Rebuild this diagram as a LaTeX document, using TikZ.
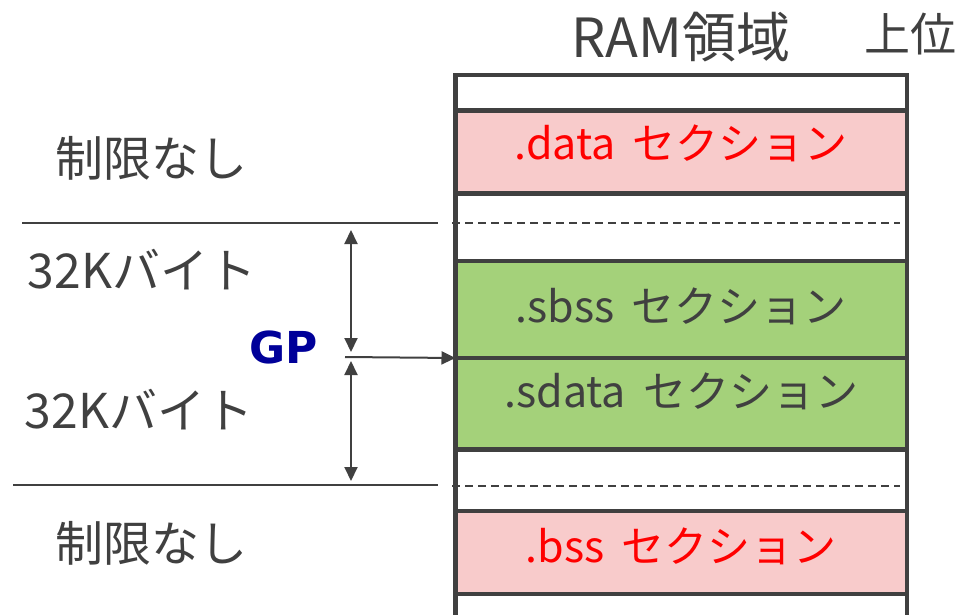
\documentclass[tikz,border=0pt]{standalone}
\usepackage{fontspec}
\setmainfont{Noto Sans CJK JP}
\newfontfamily\gpfont{DejaVu Sans}
\usetikzlibrary{arrows.meta}
\definecolor{dk}{HTML}{404040}
\definecolor{pinkfill}{HTML}{F8CBCB}
\definecolor{greenfill}{HTML}{A4D17A}
\definecolor{redtext}{HTML}{FF0000}
\definecolor{gpblue}{HTML}{000099}
\newcommand{\gapsp}{\hspace{17pt}}
\tikzset{
  seg/.style={draw=dk, line width=4.5pt, minimum width=451.5pt, inner sep=0pt, outer sep=0pt, text depth=0pt},
  blank/.style={seg, fill=white},
  redsec/.style={seg, fill=pinkfill, text=redtext, font=\fontsize{43}{50}\selectfont},
  greensec/.style={seg, fill=greenfill, text=dk, font=\fontsize{43}{50}\selectfont},
  sidelabel/.style={anchor=base, inner sep=0pt, text=dk, font=\fontsize{48}{56}\selectfont},
  guide/.style={draw=dk, line width=2pt},
  dashline/.style={draw=dk, line width=2pt, dash pattern=on 8pt off 5pt},
  dimarrow/.style={draw=dk, line width=2pt, {Triangle[length=14pt,width=13pt]}-{Triangle[length=14pt,width=13pt]}},
  ptrarrow/.style={draw=dk, line width=2pt, -{Triangle[length=14pt,width=13pt]}}
}
\begin{document}
\begin{tikzpicture}[x=1pt,y=-1pt]
\useasboundingbox (0,0) rectangle (958,615);
% column segments
\node[blank, minimum height=35.5pt] (w0) at (681.25,92.75) {};
\node[redsec, minimum height=83pt, text height=16pt] (data) at (681.25,152) {.data\gapsp セクション};
\node[blank, minimum height=67.5pt] (w1) at (681.25,227.25) {};
\node[greensec, minimum height=97pt, text height=25pt] (sbss) at (681.25,309.5) {.sbss\gapsp セクション};
\node[greensec, minimum height=91.5pt, text height=8pt] (sdata) at (681.25,403.75) {.sdata\gapsp セクション};
\node[blank, minimum height=61.5pt] (w2) at (681.25,480.25) {};
\node[redsec, minimum height=83pt, text height=19pt] (bss) at (681.25,552.5) {.bss\gapsp セクション};
\node[blank, minimum height=24pt] (w3) at (681.25,606) {};
% dashed lines inside column
\coordinate (d1a) at (452,223); \coordinate (d1b) at (900,223);
\coordinate (d2a) at (452,486); \coordinate (d2b) at (900,486);
\draw[dashline] (d1a) -- (d1b);
\draw[dashline] (d2a) -- (d2b);
% titles
\node[sidelabel, font=\fontsize{54}{62}\selectfont] (title) at (681,58) {RAM領域};
\node[sidelabel, font=\fontsize{46}{54}\selectfont] (upper) at (910,52) {上位};
% left labels
\node[sidelabel] (free1) at (151,176) {制限なし};
\node[sidelabel] (k1) at (142,288) {32Kバイト};
\node[sidelabel] (k2) at (139,428) {32Kバイト};
\node[sidelabel] (free2) at (151,561) {制限なし};
\node[anchor=base, inner sep=0pt, text=gpblue, font=\gpfont\bfseries\fontsize{44}{50}\selectfont] (gp) at (284,363) {GP};
% guide lines
\coordinate (g1a) at (22,223); \coordinate (g1b) at (438,223);
\coordinate (g2a) at (13,485); \coordinate (g2b) at (438,485);
\draw[guide] (g1a) -- (g1b);
\draw[guide] (g2a) -- (g2b);
% dimension arrows
\coordinate (u1) at (351,230); \coordinate (u2) at (351,352);
\coordinate (l1) at (351,361); \coordinate (l2) at (351,481);
\draw[dimarrow] (u1) -- (u2);
\draw[dimarrow] (l1) -- (l2);
% GP pointer
\coordinate (gpstart) at (345,357);
\draw[ptrarrow] (gpstart) -- (sbss.south west);
\end{tikzpicture}
\end{document}
